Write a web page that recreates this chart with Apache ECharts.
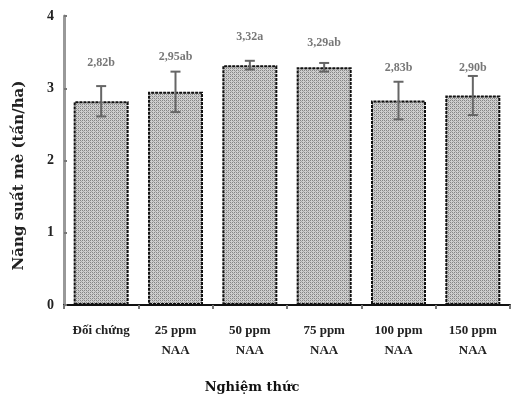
<!DOCTYPE html>
<html><head><meta charset="utf-8">
<script src="https://cdn.jsdelivr.net/npm/echarts@6/dist/echarts.min.js"></script>
<style>html,body{margin:0;padding:0;background:#fff}#c{width:511px;height:401px}</style>
</head><body><div id="c"></div>
<script>
var categories = ['Đối chứng', '25 ppm\nNAA', '50 ppm\nNAA', '75 ppm\nNAA', '100 ppm\nNAA', '150 ppm\nNAA'];
var yields = [2.82, 2.95, 3.32, 3.29, 2.83, 2.90];
var errors = [0.21, 0.28, 0.06, 0.06, 0.26, 0.27];
var labels = ['2,82b', '2,95ab', '3,32a', '3,29ab', '2,83b', '2,90b'];
var labelPos = [3.35, 3.43, 3.71, 3.63, 3.28, 3.28];
var yTicks = [0, 1, 2, 3, 4];

var pc = document.createElement('canvas');
pc.width = 4; pc.height = 4;
var g = pc.getContext('2d');
g.fillStyle = '#cfcfcf'; g.fillRect(0,0,4,4);
g.fillStyle = '#858585';
g.fillRect(0,0,1,1); g.fillRect(2,2,1,1); g.fillRect(2,0,1,1); g.fillRect(0,2,1,1);
g.fillStyle = '#a8a8a8';
g.fillRect(1,1,1,1); g.fillRect(3,3,1,1);

var font = 'Liberation Serif';
var chart = echarts.init(document.getElementById('c'));
chart.setOption({
  animation: false,
  grid: {left: 64, right: 1, top: 16, bottom: 96, containLabel: false, outerBoundsMode: 'none'},
  xAxis: {
    type: 'category', data: categories,
    name: 'Nghiệm thức', nameLocation: 'middle', nameGap: 76,
    nameTextStyle: {fontFamily: 'DejaVu Serif', fontWeight: 'bold', fontSize: 13, color: '#111', padding: [0, 70, 0, 0]},
    axisLine: {lineStyle: {color: '#111', width: 2}},
    axisTick: {show: true, length: 4, lineStyle: {color: '#777', width: 2}},
    axisLabel: {fontFamily: font, fontWeight: 'bold', fontSize: 13, color: '#222', margin: 16, lineHeight: 20, interval: 0}
  },
  yAxis: {
    type: 'value', min: 0, max: 4, interval: 1,
    name: 'Năng suất mè (tấn/ha)', nameLocation: 'middle', nameGap: 37, nameRotate: 90,
    nameTextStyle: {fontFamily: 'DejaVu Serif', fontWeight: 'bold', fontSize: 15, color: '#222', padding: [0, 30, 0, 0]},
    axisLine: {show: true, lineStyle: {color: '#999', width: 3}},
    axisTick: {show: true, inside: true, length: 3, lineStyle: {color: '#777', width: 2}},
    axisLabel: {fontFamily: font, fontWeight: 'bold', fontSize: 14, color: '#222', margin: 10,
      formatter: function(v){ return yTicks.indexOf(v) >= 0 ? String(v) : ''; }},
    splitLine: {show: false}
  },
  series: [
    {
      type: 'bar', data: yields, barWidth: 55,
      itemStyle: {color: {image: pc, repeat: 'repeat'}, borderColor: '#111', borderWidth: 2, borderType: [3, 1]}
    },
    {
      type: 'custom', z: 5,
      data: yields.map(function(v, i){ return [i, v - errors[i], v + errors[i]]; }),
      renderItem: function(params, api){
        var lo = api.coord([api.value(0), api.value(1)]);
        var hi = api.coord([api.value(0), api.value(2)]);
        var w = 5;
        var st = {stroke: '#666', lineWidth: 2};
        return {type: 'group', children: [
          {type: 'line', shape: {x1: lo[0], y1: lo[1], x2: hi[0], y2: hi[1]}, style: st},
          {type: 'line', shape: {x1: hi[0]-w, y1: hi[1], x2: hi[0]+w, y2: hi[1]}, style: st},
          {type: 'line', shape: {x1: lo[0]-w, y1: lo[1], x2: lo[0]+w, y2: lo[1]}, style: st}
        ]};
      }
    },
    {
      type: 'scatter', symbolSize: 0,
      data: labelPos.map(function(v, i){ return {value: [i, v], name: labels[i]}; }),
      label: {show: true, position: 'inside', formatter: function(p){ return p.name; },
        fontFamily: font, fontWeight: 'bold', fontSize: 12, color: '#555'}
    }
  ]
});
</script></body></html>
